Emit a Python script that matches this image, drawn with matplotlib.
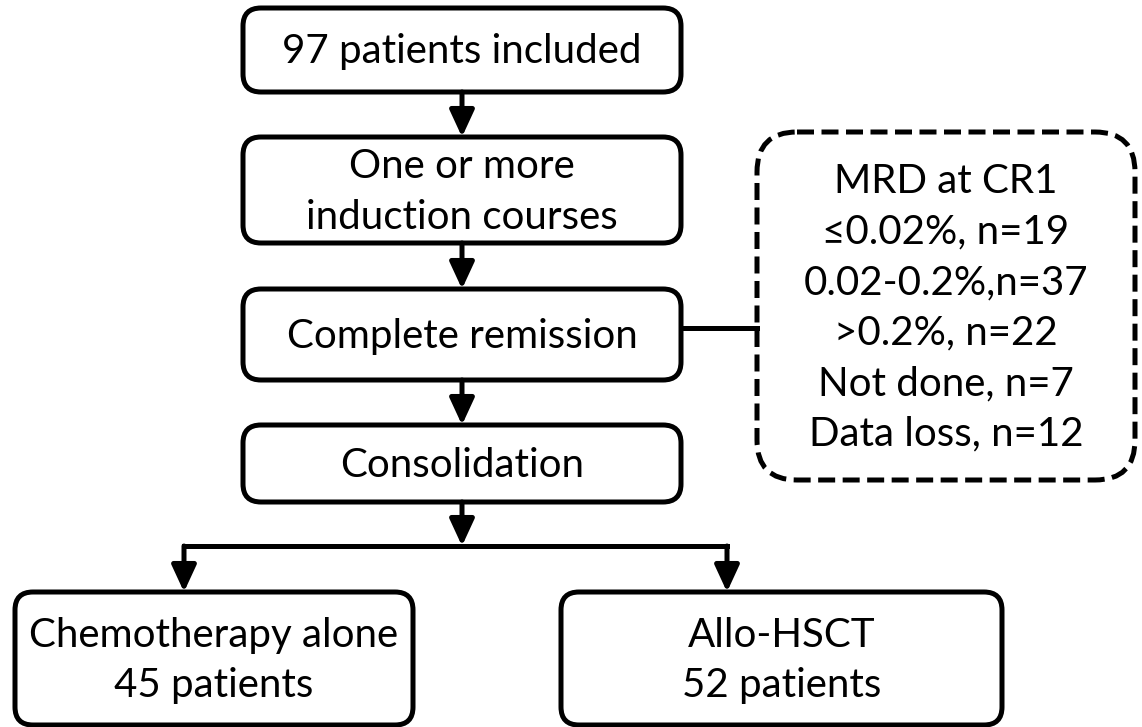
import matplotlib.pyplot as plt
from matplotlib.patches import FancyBboxPatch

plt.rcParams['font.family'] = ['Lato', 'DejaVu Sans']

# flow boxes: label, left, top, right, bottom (pixel space, y down)
main_labels = ["97 patients included", "One or more\ninduction courses",
               "Complete remission", "Consolidation"]
main_tops = [8, 137, 289, 425]
main_bottoms = [92, 243, 380, 502]
main_left, main_right = 243, 681

branch_labels = ["Chemotherapy alone\n45 patients", "Allo-HSCT\n52 patients"]
branch_lefts = [15, 561]
branch_rights = [413, 1002]
branch_top, branch_bottom = 592, 725

mrd_lines = ["MRD at CR1", "\u22640.02%, n=19", "0.02-0.2%,n=37",
             ">0.2%, n=22", "Not done, n=7", "Data loss, n=12"]

fig = plt.figure(figsize=(11.42, 7.27), dpi=100)
ax = fig.add_axes([0, 0, 1, 1])
ax.set_xlim(0, 1142)
ax.set_ylim(727, 0)
ax.axis('off')

lw = 3.6
fs = 29


def box(x0, y0, x1, y1, text, dashed=False, r=18):
    p = FancyBboxPatch((x0, y0), x1 - x0, y1 - y0,
                       boxstyle=f"round,pad=0,rounding_size={r}",
                       fc='white', ec='black', lw=lw,
                       ls=(0, (3.4, 1.5)) if dashed else '-')
    ax.add_patch(p)
    ax.text((x0 + x1) / 2, (y0 + y1) / 2 + 2, text, ha='center', va='center',
            fontsize=fs, linespacing=1.45)


def arrow(x, y0, y1):
    ax.annotate("", xy=(x, y1), xytext=(x, y0),
                arrowprops=dict(arrowstyle="-|>,head_length=0.65,head_width=0.3",
                                mutation_scale=25, lw=lw, color='black',
                                shrinkA=0, shrinkB=0))


cx = (main_left + main_right) / 2
for lab, t, b in zip(main_labels, main_tops, main_bottoms):
    box(main_left, t, main_right, b, lab)
for i in range(len(main_tops) - 1):
    arrow(cx, main_bottoms[i], main_tops[i + 1])

# split to the two branches
split_y = 546
arrow(cx, main_bottoms[-1], split_y)
bx = [184, 727]
ax.plot([bx[0], bx[1]], [split_y, split_y], color='black', lw=lw,
        solid_capstyle='projecting')
for x in bx:
    arrow(x, split_y, branch_top)
for lab, l, r in zip(branch_labels, branch_lefts, branch_rights):
    box(l, branch_top, r, branch_bottom, lab)

# MRD side box
ax.plot([main_right, 757], [328, 328], color='black', lw=lw)
box(757, 132, 1135, 480, "\n".join(mrd_lines), dashed=True, r=40)

fig.savefig("out.png", dpi=100)
